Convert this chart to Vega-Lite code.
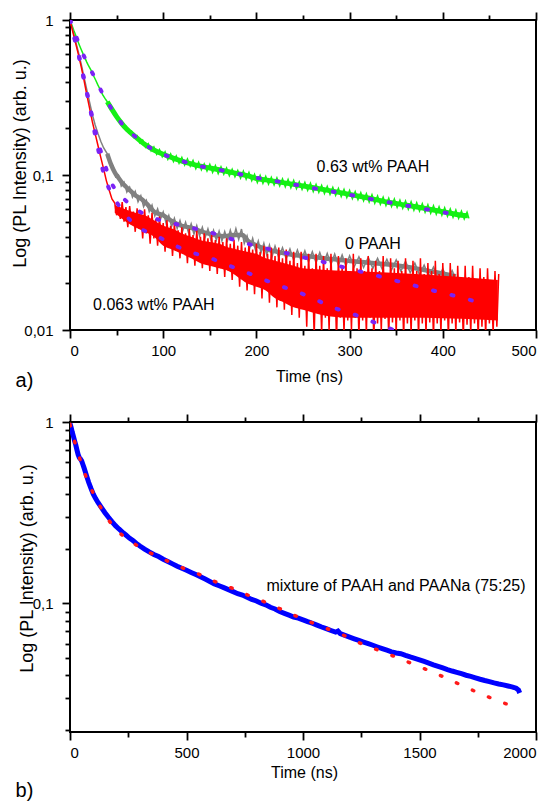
{
"$schema": "https://vega.github.io/schema/vega-lite/v6.json",
"background": "white",
"padding": {"left": 10, "top": 10, "right": 5, "bottom": 2},
"autosize": {"type": "pad"},
"config": {
  "font": "Liberation Sans",
  "view": {"stroke": "black", "strokeWidth": 2},
  "axis": {"domain": false, "grid": false, "labelFont": "Liberation Sans", "labelFontSize": 15, "labelColor": "black", "tickColor": "black", "titleFont": "Liberation Sans", "titleFontWeight": "normal", "titleColor": "black"}
},
"spacing": 92,
"bounds": "flush",
"datasets": {
"a": [
{"s":"g","t":0,"v":1},{"s":"g","t":2,"v":0.93},{"s":"g","t":4,"v":0.86},{"s":"g","t":6,"v":0.8},{"s":"g","t":8,"v":0.74},{"s":"g","t":10,"v":0.69},{"s":"g","t":12,"v":0.645},{"s":"g","t":14,"v":0.605},{"s":"g","t":16,"v":0.57},{"s":"g","t":18,"v":0.535},{"s":"g","t":20,"v":0.505},{"s":"g","t":22.5,"v":0.475},{"s":"g","t":25,"v":0.44},{"s":"g","t":27.5,"v":0.41},{"s":"g","t":30,"v":0.38},{"s":"g","t":32.5,"v":0.355},{"s":"g","t":35,"v":0.33},{"s":"g","t":37.5,"v":0.312},{"s":"g","t":40,"v":0.297},
{"s":"g","t":42,"v":0.289},{"s":"g","t":45,"v":0.259},{"s":"g","t":48,"v":0.253},{"s":"g","t":51,"v":0.227},{"s":"g","t":54,"v":0.225},{"s":"g","t":57,"v":0.204},{"s":"g","t":60,"v":0.206},{"s":"g","t":63,"v":0.187},{"s":"g","t":66,"v":0.192},{"s":"g","t":69,"v":0.173},{"s":"g","t":72,"v":0.179},{"s":"g","t":75,"v":0.161},{"s":"g","t":78,"v":0.168},{"s":"g","t":81,"v":0.151},{"s":"g","t":84,"v":0.159},{"s":"g","t":87,"v":0.143},{"s":"g","t":90,"v":0.152},{"s":"g","t":93,"v":0.136},{"s":"g","t":96,"v":0.146},{"s":"g","t":99,"v":0.131},{"s":"g","t":102,"v":0.141},{"s":"g","t":105,"v":0.126},{"s":"g","t":108,"v":0.137},{"s":"g","t":111,"v":0.122},{"s":"g","t":114,"v":0.133},{"s":"g","t":117,"v":0.119},{"s":"g","t":120,"v":0.13},{"s":"g","t":123,"v":0.116},{"s":"g","t":126,"v":0.127},{"s":"g","t":129,"v":0.114},{"s":"g","t":132,"v":0.124},{"s":"g","t":135,"v":0.11},{"s":"g","t":138,"v":0.121},{"s":"g","t":141,"v":0.108},{"s":"g","t":144,"v":0.118},{"s":"g","t":147,"v":0.106},{"s":"g","t":150,"v":0.117},{"s":"g","t":153,"v":0.104},{"s":"g","t":156,"v":0.115},{"s":"g","t":159,"v":0.102},{"s":"g","t":162,"v":0.113},{"s":"g","t":165,"v":0.101},{"s":"g","t":168,"v":0.111},{"s":"g","t":171,"v":0.099},{"s":"g","t":174,"v":0.109},{"s":"g","t":177,"v":0.0975},{"s":"g","t":180,"v":0.107},{"s":"g","t":183,"v":0.0955},{"s":"g","t":186,"v":0.106},{"s":"g","t":189,"v":0.094},{"s":"g","t":192,"v":0.104},{"s":"g","t":195,"v":0.092},{"s":"g","t":198,"v":0.101},{"s":"g","t":201,"v":0.0895},{"s":"g","t":204,"v":0.0995},{"s":"g","t":207,"v":0.0882},{"s":"g","t":210,"v":0.098},{"s":"g","t":213,"v":0.0872},{"s":"g","t":216,"v":0.0965},{"s":"g","t":219,"v":0.0862},{"s":"g","t":222,"v":0.0958},{"s":"g","t":225,"v":0.0852},{"s":"g","t":228,"v":0.0945},{"s":"g","t":231,"v":0.084},{"s":"g","t":234,"v":0.0935},{"s":"g","t":237,"v":0.0828},{"s":"g","t":240,"v":0.0922},{"s":"g","t":243,"v":0.0818},{"s":"g","t":246,"v":0.0905},{"s":"g","t":249,"v":0.0808},{"s":"g","t":252,"v":0.0895},{"s":"g","t":255,"v":0.0795},{"s":"g","t":258,"v":0.0885},{"s":"g","t":261,"v":0.0783},{"s":"g","t":264,"v":0.087},{"s":"g","t":267,"v":0.0772},{"s":"g","t":270,"v":0.0858},{"s":"g","t":273,"v":0.076},{"s":"g","t":276,"v":0.0845},{"s":"g","t":279,"v":0.075},{"s":"g","t":282,"v":0.0832},{"s":"g","t":285,"v":0.0738},{"s":"g","t":288,"v":0.082},{"s":"g","t":291,"v":0.0727},{"s":"g","t":294,"v":0.0808},{"s":"g","t":297,"v":0.0715},{"s":"g","t":300,"v":0.0795},{"s":"g","t":303,"v":0.0704},{"s":"g","t":306,"v":0.0782},{"s":"g","t":309,"v":0.0693},{"s":"g","t":312,"v":0.077},{"s":"g","t":315,"v":0.0682},{"s":"g","t":318,"v":0.0758},{"s":"g","t":321,"v":0.067},{"s":"g","t":324,"v":0.0745},{"s":"g","t":327,"v":0.0658},{"s":"g","t":330,"v":0.0733},{"s":"g","t":333,"v":0.0648},{"s":"g","t":336,"v":0.072},{"s":"g","t":339,"v":0.0636},{"s":"g","t":342,"v":0.0708},{"s":"g","t":345,"v":0.0627},{"s":"g","t":348,"v":0.07},{"s":"g","t":351,"v":0.0618},{"s":"g","t":354,"v":0.0688},{"s":"g","t":357,"v":0.061},{"s":"g","t":360,"v":0.068},{"s":"g","t":363,"v":0.0602},{"s":"g","t":366,"v":0.0672},{"s":"g","t":369,"v":0.0593},{"s":"g","t":372,"v":0.0662},{"s":"g","t":375,"v":0.0585},{"s":"g","t":378,"v":0.0652},{"s":"g","t":381,"v":0.0575},{"s":"g","t":384,"v":0.0642},{"s":"g","t":387,"v":0.0567},{"s":"g","t":390,"v":0.0633},{"s":"g","t":393,"v":0.0558},{"s":"g","t":396,"v":0.0623},{"s":"g","t":399,"v":0.055},{"s":"g","t":402,"v":0.0614},{"s":"g","t":405,"v":0.0542},{"s":"g","t":408,"v":0.0604},{"s":"g","t":411,"v":0.0533},{"s":"g","t":414,"v":0.0595},{"s":"g","t":417,"v":0.0525},{"s":"g","t":420,"v":0.0585},{"s":"g","t":423,"v":0.052},{"s":"g","t":426,"v":0.0575},{"s":"g","t":428,"v":0.0525},
{"s":"gc","t":40,"v":0.297},{"s":"gc","t":45,"v":0.265},{"s":"gc","t":50,"v":0.238},{"s":"gc","t":55,"v":0.217},{"s":"gc","t":60,"v":0.2},{"s":"gc","t":65,"v":0.188},{"s":"gc","t":70,"v":0.177},{"s":"gc","t":80,"v":0.158},{"s":"gc","t":90,"v":0.145},{"s":"gc","t":100,"v":0.136},{"s":"gc","t":110,"v":0.129},{"s":"gc","t":120,"v":0.123},{"s":"gc","t":130,"v":0.118},{"s":"gc","t":140,"v":0.114},{"s":"gc","t":150,"v":0.111},{"s":"gc","t":160,"v":0.108},{"s":"gc","t":170,"v":0.105},{"s":"gc","t":180,"v":0.102},{"s":"gc","t":190,"v":0.099},{"s":"gc","t":200,"v":0.095},{"s":"gc","t":210,"v":0.093},{"s":"gc","t":220,"v":0.091},{"s":"gc","t":240,"v":0.087},{"s":"gc","t":260,"v":0.083},{"s":"gc","t":280,"v":0.079},{"s":"gc","t":300,"v":0.075},{"s":"gc","t":320,"v":0.071},{"s":"gc","t":340,"v":0.067},{"s":"gc","t":360,"v":0.064},{"s":"gc","t":380,"v":0.061},{"s":"gc","t":400,"v":0.058},{"s":"gc","t":420,"v":0.055},{"s":"gc","t":427,"v":0.0545},
{"s":"k","t":0,"v":1},{"s":"k","t":3,"v":0.86},{"s":"k","t":6,"v":0.73},{"s":"k","t":9,"v":0.62},{"s":"k","t":12,"v":0.52},{"s":"k","t":15,"v":0.43},{"s":"k","t":18,"v":0.355},{"s":"k","t":21,"v":0.295},{"s":"k","t":24,"v":0.245},{"s":"k","t":27,"v":0.21},{"s":"k","t":30,"v":0.185},{"s":"k","t":33,"v":0.165},{"s":"k","t":36,"v":0.15},{"s":"k","t":40,"v":0.137},
{"s":"k","t":43,"v":0.116},{"s":"k","t":46,"v":0.115},{"s":"k","t":49,"v":0.097},{"s":"k","t":52,"v":0.1},{"s":"k","t":55,"v":0.085},{"s":"k","t":58,"v":0.09},{"s":"k","t":61,"v":0.0775},{"s":"k","t":64,"v":0.0835},{"s":"k","t":67,"v":0.072},{"s":"k","t":70,"v":0.0785},{"s":"k","t":73,"v":0.0672},{"s":"k","t":76,"v":0.0735},{"s":"k","t":79,"v":0.0625},{"s":"k","t":82,"v":0.0685},{"s":"k","t":85,"v":0.058},{"s":"k","t":88,"v":0.064},{"s":"k","t":91,"v":0.0545},{"s":"k","t":94,"v":0.0605},{"s":"k","t":97,"v":0.0518},{"s":"k","t":100,"v":0.0578},{"s":"k","t":103,"v":0.0492},{"s":"k","t":106,"v":0.0548},{"s":"k","t":109,"v":0.0465},{"s":"k","t":112,"v":0.0525},{"s":"k","t":115,"v":0.0452},{"s":"k","t":118,"v":0.0508},{"s":"k","t":121,"v":0.0438},{"s":"k","t":124,"v":0.0496},{"s":"k","t":127,"v":0.0428},{"s":"k","t":130,"v":0.0484},{"s":"k","t":133,"v":0.0416},{"s":"k","t":136,"v":0.0472},{"s":"k","t":139,"v":0.0405},{"s":"k","t":142,"v":0.046},{"s":"k","t":145,"v":0.0396},{"s":"k","t":148,"v":0.045},{"s":"k","t":151,"v":0.0387},{"s":"k","t":154,"v":0.044},{"s":"k","t":157,"v":0.038},{"s":"k","t":160,"v":0.0435},{"s":"k","t":163,"v":0.0376},{"s":"k","t":166,"v":0.0432},{"s":"k","t":169,"v":0.0378},{"s":"k","t":172,"v":0.044},{"s":"k","t":175,"v":0.0385},{"s":"k","t":178,"v":0.045},{"s":"k","t":181,"v":0.0385},{"s":"k","t":184,"v":0.0448},{"s":"k","t":187,"v":0.0362},{"s":"k","t":190,"v":0.0405},{"s":"k","t":193,"v":0.034},{"s":"k","t":196,"v":0.039},{"s":"k","t":199,"v":0.0328},{"s":"k","t":202,"v":0.0375},{"s":"k","t":205,"v":0.0316},{"s":"k","t":208,"v":0.0362},{"s":"k","t":211,"v":0.0306},{"s":"k","t":214,"v":0.0353},{"s":"k","t":217,"v":0.03},{"s":"k","t":220,"v":0.0348},{"s":"k","t":224,"v":0.0294},{"s":"k","t":228,"v":0.034},{"s":"k","t":232,"v":0.0288},{"s":"k","t":236,"v":0.0333},{"s":"k","t":240,"v":0.0282},{"s":"k","t":244,"v":0.0328},{"s":"k","t":248,"v":0.0279},{"s":"k","t":252,"v":0.0324},{"s":"k","t":256,"v":0.0275},{"s":"k","t":260,"v":0.032},{"s":"k","t":264,"v":0.0272},{"s":"k","t":268,"v":0.0316},{"s":"k","t":272,"v":0.0269},{"s":"k","t":276,"v":0.0312},{"s":"k","t":280,"v":0.0265},{"s":"k","t":284,"v":0.0309},{"s":"k","t":288,"v":0.0262},{"s":"k","t":292,"v":0.0305},{"s":"k","t":296,"v":0.0259},{"s":"k","t":300,"v":0.0301},{"s":"k","t":305,"v":0.0256},{"s":"k","t":310,"v":0.0297},{"s":"k","t":315,"v":0.0253},{"s":"k","t":320,"v":0.0294},{"s":"k","t":325,"v":0.025},{"s":"k","t":330,"v":0.029},{"s":"k","t":335,"v":0.0247},{"s":"k","t":340,"v":0.0286},{"s":"k","t":345,"v":0.0244},{"s":"k","t":350,"v":0.0283},{"s":"k","t":355,"v":0.024},{"s":"k","t":360,"v":0.0277},{"s":"k","t":365,"v":0.0234},{"s":"k","t":370,"v":0.027},{"s":"k","t":375,"v":0.0227},{"s":"k","t":380,"v":0.0262},{"s":"k","t":385,"v":0.0221},{"s":"k","t":390,"v":0.0255},{"s":"k","t":395,"v":0.0215},{"s":"k","t":400,"v":0.0248},{"s":"k","t":405,"v":0.021},{"s":"k","t":410,"v":0.0242},{"s":"k","t":415,"v":0.0205},
{"s":"kc","t":40,"v":0.137},{"s":"kc","t":44,"v":0.117},{"s":"kc","t":48,"v":0.104},{"s":"kc","t":52,"v":0.096},{"s":"kc","t":56,"v":0.089},{"s":"kc","t":60,"v":0.084},{"s":"kc","t":65,"v":0.079},{"s":"kc","t":70,"v":0.074},{"s":"kc","t":76,"v":0.0705},{"s":"kc","t":82,"v":0.0655},{"s":"kc","t":91,"v":0.0575},{"s":"kc","t":100,"v":0.055},{"s":"kc","t":108,"v":0.051},{"s":"kc","t":120,"v":0.047},{"s":"kc","t":130,"v":0.0457},{"s":"kc","t":140,"v":0.0434},{"s":"kc","t":152,"v":0.0413},{"s":"kc","t":165,"v":0.0403},{"s":"kc","t":175,"v":0.041},{"s":"kc","t":185,"v":0.041},{"s":"kc","t":191,"v":0.0375},{"s":"kc","t":200,"v":0.0352},{"s":"kc","t":210,"v":0.0332},{"s":"kc","t":220,"v":0.0322},{"s":"kc","t":240,"v":0.0305},{"s":"kc","t":260,"v":0.0297},{"s":"kc","t":280,"v":0.0287},{"s":"kc","t":300,"v":0.0279},{"s":"kc","t":320,"v":0.0272},{"s":"kc","t":350,"v":0.0262},{"s":"kc","t":380,"v":0.0244},{"s":"kc","t":414,"v":0.0222},
{"s":"r","t":0,"v":1},{"s":"r","t":3,"v":0.84},{"s":"r","t":6,"v":0.71},{"s":"r","t":9,"v":0.6},{"s":"r","t":12,"v":0.5},{"s":"r","t":15,"v":0.41},{"s":"r","t":18,"v":0.33},{"s":"r","t":21,"v":0.27},{"s":"r","t":24,"v":0.22},{"s":"r","t":27,"v":0.185},{"s":"r","t":30,"v":0.155},{"s":"r","t":33,"v":0.13},{"s":"r","t":36,"v":0.11},{"s":"r","t":39,"v":0.092},{"s":"r","t":42,"v":0.08},{"s":"r","t":45,"v":0.07},
{"s":"r","t":48,"v":0.066},{"s":"r","t":50,"v":0.055},{"s":"r","t":52,"v":0.064},{"s":"r","t":54,"v":0.052},{"s":"r","t":56,"v":0.067},{"s":"r","t":58,"v":0.05},{"s":"r","t":60,"v":0.062},{"s":"r","t":62,"v":0.046},{"s":"r","t":64,"v":0.063},{"s":"r","t":66,"v":0.048},{"s":"r","t":68,"v":0.058},{"s":"r","t":70,"v":0.043},{"s":"r","t":72,"v":0.061},{"s":"r","t":74,"v":0.045},{"s":"r","t":76,"v":0.057},{"s":"r","t":78,"v":0.039},{"s":"r","t":80,"v":0.06},{"s":"r","t":82,"v":0.042},{"s":"r","t":84,"v":0.055},{"s":"r","t":86,"v":0.036},{"s":"r","t":88,"v":0.057},{"s":"r","t":90,"v":0.039},{"s":"r","t":92,"v":0.052},{"s":"r","t":94,"v":0.035},{"s":"r","t":96,"v":0.054},{"s":"r","t":98,"v":0.037},{"s":"r","t":100,"v":0.049},{"s":"r","t":102,"v":0.032},{"s":"r","t":104,"v":0.051},{"s":"r","t":106,"v":0.035},{"s":"r","t":108,"v":0.047},{"s":"r","t":110,"v":0.03},{"s":"r","t":112,"v":0.049},{"s":"r","t":114,"v":0.033},{"s":"r","t":116,"v":0.044},{"s":"r","t":118,"v":0.029},{"s":"r","t":120,"v":0.046},{"s":"r","t":122,"v":0.031},{"s":"r","t":124,"v":0.042},{"s":"r","t":126,"v":0.027},{"s":"r","t":128,"v":0.045},{"s":"r","t":130,"v":0.03},{"s":"r","t":132,"v":0.041},{"s":"r","t":134,"v":0.026},{"s":"r","t":136,"v":0.044},{"s":"r","t":138,"v":0.029},{"s":"r","t":140,"v":0.04},{"s":"r","t":142,"v":0.025},{"s":"r","t":144,"v":0.042},{"s":"r","t":146,"v":0.028},{"s":"r","t":148,"v":0.039},{"s":"r","t":150,"v":0.024},{"s":"r","t":152,"v":0.041},{"s":"r","t":154,"v":0.026},{"s":"r","t":156,"v":0.038},{"s":"r","t":158,"v":0.023},{"s":"r","t":160,"v":0.04},{"s":"r","t":162,"v":0.025},{"s":"r","t":164,"v":0.037},{"s":"r","t":166,"v":0.022},{"s":"r","t":168,"v":0.039},{"s":"r","t":170,"v":0.024},{"s":"r","t":172,"v":0.036},{"s":"r","t":174,"v":0.021},{"s":"r","t":176,"v":0.038},{"s":"r","t":178,"v":0.023},{"s":"r","t":180,"v":0.035},{"s":"r","t":182,"v":0.019},{"s":"r","t":184,"v":0.037},{"s":"r","t":186,"v":0.022},{"s":"r","t":188,"v":0.034},{"s":"r","t":190,"v":0.018},{"s":"r","t":192,"v":0.037},{"s":"r","t":194,"v":0.021},{"s":"r","t":196,"v":0.033},{"s":"r","t":198,"v":0.017},{"s":"r","t":200,"v":0.036},{"s":"r","t":202,"v":0.02},{"s":"r","t":204,"v":0.032},{"s":"r","t":206,"v":0.016},{"s":"r","t":208,"v":0.035},{"s":"r","t":210,"v":0.019},{"s":"r","t":212,"v":0.031},{"s":"r","t":214,"v":0.015},{"s":"r","t":216,"v":0.034},{"s":"r","t":218,"v":0.018},{"s":"r","t":220,"v":0.03},{"s":"r","t":222,"v":0.014},{"s":"r","t":224,"v":0.034},{"s":"r","t":226,"v":0.017},{"s":"r","t":228,"v":0.029},{"s":"r","t":230,"v":0.0135},{"s":"r","t":232,"v":0.033},{"s":"r","t":234,"v":0.016},{"s":"r","t":236,"v":0.028},{"s":"r","t":238,"v":0.0125},{"s":"r","t":240,"v":0.032},{"s":"r","t":242,"v":0.015},{"s":"r","t":244,"v":0.027},{"s":"r","t":246,"v":0.012},{"s":"r","t":248,"v":0.032},{"s":"r","t":250,"v":0.014},{"s":"r","t":252,"v":0.026},{"s":"r","t":254,"v":0.0105},{"s":"r","t":256,"v":0.031},{"s":"r","t":258,"v":0.0135},{"s":"r","t":260,"v":0.025},{"s":"r","t":262,"v":0.009},{"s":"r","t":264,"v":0.031},{"s":"r","t":266,"v":0.013},{"s":"r","t":268,"v":0.026},{"s":"r","t":270,"v":0.0095},{"s":"r","t":272,"v":0.03},{"s":"r","t":274,"v":0.012},{"s":"r","t":276,"v":0.025},{"s":"r","t":278,"v":0.01},{"s":"r","t":280,"v":0.031},{"s":"r","t":282,"v":0.0125},{"s":"r","t":284,"v":0.024},{"s":"r","t":286,"v":0.0085},{"s":"r","t":288,"v":0.03},{"s":"r","t":290,"v":0.012},{"s":"r","t":292,"v":0.026},{"s":"r","t":294,"v":0.0095},{"s":"r","t":296,"v":0.029},{"s":"r","t":298,"v":0.0115},{"s":"r","t":300,"v":0.024},{"s":"r","t":302,"v":0.01},{"s":"r","t":304,"v":0.031},{"s":"r","t":306,"v":0.012},{"s":"r","t":308,"v":0.025},{"s":"r","t":310,"v":0.009},{"s":"r","t":312,"v":0.029},{"s":"r","t":314,"v":0.0115},{"s":"r","t":316,"v":0.024},{"s":"r","t":318,"v":0.0095},{"s":"r","t":320,"v":0.03},{"s":"r","t":322,"v":0.012},{"s":"r","t":324,"v":0.025},{"s":"r","t":326,"v":0.0085},{"s":"r","t":328,"v":0.028},{"s":"r","t":330,"v":0.011},{"s":"r","t":332,"v":0.024},{"s":"r","t":334,"v":0.0098},{"s":"r","t":336,"v":0.03},{"s":"r","t":338,"v":0.0118},{"s":"r","t":340,"v":0.023},{"s":"r","t":342,"v":0.009},{"s":"r","t":344,"v":0.029},{"s":"r","t":346,"v":0.0112},{"s":"r","t":348,"v":0.025},{"s":"r","t":350,"v":0.0095},{"s":"r","t":352,"v":0.028},{"s":"r","t":354,"v":0.0115},{"s":"r","t":356,"v":0.024},{"s":"r","t":358,"v":0.0088},{"s":"r","t":360,"v":0.029},{"s":"r","t":362,"v":0.011},{"s":"r","t":364,"v":0.023},{"s":"r","t":366,"v":0.0095},{"s":"r","t":368,"v":0.028},{"s":"r","t":370,"v":0.0115},{"s":"r","t":372,"v":0.024},{"s":"r","t":374,"v":0.009},{"s":"r","t":376,"v":0.029},{"s":"r","t":378,"v":0.011},{"s":"r","t":380,"v":0.023},{"s":"r","t":382,"v":0.0095},{"s":"r","t":384,"v":0.027},{"s":"r","t":386,"v":0.0112},{"s":"r","t":388,"v":0.024},{"s":"r","t":390,"v":0.0088},{"s":"r","t":392,"v":0.028},{"s":"r","t":394,"v":0.011},{"s":"r","t":396,"v":0.023},{"s":"r","t":398,"v":0.0095},{"s":"r","t":400,"v":0.027},{"s":"r","t":402,"v":0.0115},{"s":"r","t":404,"v":0.022},{"s":"r","t":406,"v":0.009},{"s":"r","t":408,"v":0.027},{"s":"r","t":410,"v":0.011},{"s":"r","t":412,"v":0.023},{"s":"r","t":414,"v":0.0095},{"s":"r","t":416,"v":0.026},{"s":"r","t":418,"v":0.0112},{"s":"r","t":420,"v":0.022},{"s":"r","t":422,"v":0.0088},{"s":"r","t":424,"v":0.026},{"s":"r","t":426,"v":0.0108},{"s":"r","t":428,"v":0.022},{"s":"r","t":430,"v":0.0095},{"s":"r","t":432,"v":0.026},{"s":"r","t":434,"v":0.011},{"s":"r","t":436,"v":0.021},{"s":"r","t":438,"v":0.009},{"s":"r","t":440,"v":0.025},{"s":"r","t":442,"v":0.0105},{"s":"r","t":444,"v":0.022},{"s":"r","t":446,"v":0.0092},{"s":"r","t":448,"v":0.025},{"s":"r","t":450,"v":0.011},{"s":"r","t":452,"v":0.021},{"s":"r","t":454,"v":0.0095},{"s":"r","t":456,"v":0.024},{"s":"r","t":458,"v":0.0105},{"s":"r","t":460,"v":0.023},
{"s":"gf","t":0,"v":1},{"s":"gf","t":3,"v":0.89},{"s":"gf","t":6,"v":0.8},{"s":"gf","t":9,"v":0.72},{"s":"gf","t":12,"v":0.645},{"s":"gf","t":15,"v":0.585},{"s":"gf","t":18,"v":0.535},{"s":"gf","t":21,"v":0.49},{"s":"gf","t":24,"v":0.455},{"s":"gf","t":27,"v":0.42},{"s":"gf","t":30,"v":0.385},{"s":"gf","t":35,"v":0.335},{"s":"gf","t":40,"v":0.297},{"s":"gf","t":45,"v":0.265},{"s":"gf","t":50,"v":0.238},{"s":"gf","t":55,"v":0.217},{"s":"gf","t":60,"v":0.2},{"s":"gf","t":70,"v":0.177},{"s":"gf","t":80,"v":0.158},{"s":"gf","t":90,"v":0.145},{"s":"gf","t":100,"v":0.136},{"s":"gf","t":120,"v":0.123},{"s":"gf","t":140,"v":0.114},{"s":"gf","t":160,"v":0.108},{"s":"gf","t":180,"v":0.102},{"s":"gf","t":200,"v":0.096},{"s":"gf","t":220,"v":0.0915},{"s":"gf","t":240,"v":0.087},{"s":"gf","t":260,"v":0.0825},{"s":"gf","t":280,"v":0.0785},{"s":"gf","t":300,"v":0.0745},{"s":"gf","t":320,"v":0.0705},{"s":"gf","t":340,"v":0.067},{"s":"gf","t":360,"v":0.0637},{"s":"gf","t":380,"v":0.0605},{"s":"gf","t":400,"v":0.0575},{"s":"gf","t":422,"v":0.0545},
{"s":"kf","t":0,"v":1},{"s":"kf","t":3,"v":0.85},{"s":"kf","t":6,"v":0.72},{"s":"kf","t":9,"v":0.61},{"s":"kf","t":12,"v":0.51},{"s":"kf","t":15,"v":0.42},{"s":"kf","t":18,"v":0.345},{"s":"kf","t":21,"v":0.285},{"s":"kf","t":24,"v":0.235},{"s":"kf","t":27,"v":0.195},{"s":"kf","t":30,"v":0.165},{"s":"kf","t":35,"v":0.13},{"s":"kf","t":40,"v":0.105},{"s":"kf","t":44,"v":0.09},{"s":"kf","t":50,"v":0.079},{"s":"kf","t":57,"v":0.071},{"s":"kf","t":65,"v":0.064},{"s":"kf","t":75,"v":0.058},{"s":"kf","t":87,"v":0.0535},{"s":"kf","t":109,"v":0.049},{"s":"kf","t":128,"v":0.046},{"s":"kf","t":148,"v":0.043},{"s":"kf","t":168,"v":0.0395},{"s":"kf","t":187,"v":0.0365},{"s":"kf","t":207,"v":0.034},{"s":"kf","t":226,"v":0.032},{"s":"kf","t":247,"v":0.0297},{"s":"kf","t":266,"v":0.028},{"s":"kf","t":287,"v":0.026},{"s":"kf","t":307,"v":0.0242},{"s":"kf","t":327,"v":0.0226},{"s":"kf","t":347,"v":0.021},{"s":"kf","t":366,"v":0.0196},{"s":"kf","t":386,"v":0.0182},{"s":"kf","t":406,"v":0.017},{"s":"kf","t":425,"v":0.0159},{"s":"kf","t":445,"v":0.0147},
{"s":"rf","t":0,"v":1},{"s":"rf","t":3,"v":0.84},{"s":"rf","t":6,"v":0.71},{"s":"rf","t":9,"v":0.6},{"s":"rf","t":12,"v":0.5},{"s":"rf","t":15,"v":0.41},{"s":"rf","t":18,"v":0.34},{"s":"rf","t":21,"v":0.28},{"s":"rf","t":24,"v":0.225},{"s":"rf","t":27,"v":0.18},{"s":"rf","t":30,"v":0.148},{"s":"rf","t":33,"v":0.122},{"s":"rf","t":36,"v":0.103},{"s":"rf","t":40,"v":0.087},{"s":"rf","t":44,"v":0.077},{"s":"rf","t":48,"v":0.07},{"s":"rf","t":57,"v":0.058},{"s":"rf","t":71,"v":0.047},{"s":"rf","t":91,"v":0.041},{"s":"rf","t":109,"v":0.036},{"s":"rf","t":128,"v":0.032},{"s":"rf","t":148,"v":0.0295},{"s":"rf","t":166,"v":0.0267},{"s":"rf","t":186,"v":0.024},{"s":"rf","t":205,"v":0.0215},{"s":"rf","t":223,"v":0.0195},{"s":"rf","t":243,"v":0.0177},{"s":"rf","t":263,"v":0.0158},{"s":"rf","t":280,"v":0.0141},{"s":"rf","t":300,"v":0.0129},{"s":"rf","t":320,"v":0.0116},{"s":"rf","t":338,"v":0.0105},{"s":"rf","t":360,"v":0.0094},{"s":"rf","t":380,"v":0.0085}
],
"rband": [
{"t":48,"lo":0.057,"hi":0.064},{"t":60,"lo":0.05,"hi":0.06},{"t":70,"lo":0.046,"hi":0.057},{"t":80,"lo":0.043,"hi":0.055},{"t":90,"lo":0.04,"hi":0.051},{"t":100,"lo":0.035,"hi":0.047},{"t":110,"lo":0.033,"hi":0.045},{"t":120,"lo":0.031,"hi":0.042},{"t":130,"lo":0.029,"hi":0.04},{"t":140,"lo":0.027,"hi":0.038},{"t":150,"lo":0.026,"hi":0.037},{"t":160,"lo":0.025,"hi":0.036},{"t":170,"lo":0.024,"hi":0.034},{"t":180,"lo":0.022,"hi":0.033},{"t":190,"lo":0.02,"hi":0.032},{"t":200,"lo":0.019,"hi":0.031},{"t":210,"lo":0.018,"hi":0.029},{"t":220,"lo":0.016,"hi":0.028},{"t":230,"lo":0.015,"hi":0.027},{"t":240,"lo":0.014,"hi":0.026},{"t":250,"lo":0.0135,"hi":0.025},{"t":270,"lo":0.0125,"hi":0.0245},{"t":300,"lo":0.012,"hi":0.024},{"t":340,"lo":0.012,"hi":0.0235},{"t":380,"lo":0.012,"hi":0.0228},{"t":420,"lo":0.0118,"hi":0.022},{"t":459,"lo":0.0115,"hi":0.021}
],
"alab": [
{"t":325,"v":0.1126,"label":"0.63 wt% PAAH"},
{"t":325,"v":0.0359,"label":"0 PAAH"},
{"t":90,"v":0.0145,"label":"0.063 wt% PAAH"}
],
"b": [
{"s":"b","t":0,"v":0.98},{"s":"b","t":5,"v":0.93},{"s":"b","t":10,"v":0.875},{"s":"b","t":15,"v":0.83},{"s":"b","t":20,"v":0.785},{"s":"b","t":25,"v":0.745},{"s":"b","t":30,"v":0.7},{"s":"b","t":35,"v":0.66},{"s":"b","t":40,"v":0.635},{"s":"b","t":45,"v":0.625},{"s":"b","t":50,"v":0.61},{"s":"b","t":55,"v":0.585},{"s":"b","t":60,"v":0.56},{"s":"b","t":70,"v":0.51},{"s":"b","t":80,"v":0.465},{"s":"b","t":90,"v":0.43},{"s":"b","t":100,"v":0.4},{"s":"b","t":110,"v":0.378},{"s":"b","t":120,"v":0.36},{"s":"b","t":135,"v":0.337},{"s":"b","t":150,"v":0.316},{"s":"b","t":165,"v":0.298},{"s":"b","t":180,"v":0.282},{"s":"b","t":195,"v":0.268},{"s":"b","t":210,"v":0.257},{"s":"b","t":225,"v":0.247},{"s":"b","t":240,"v":0.238},{"s":"b","t":255,"v":0.229},{"s":"b","t":270,"v":0.222},{"s":"b","t":285,"v":0.214},{"s":"b","t":300,"v":0.207},{"s":"b","t":320,"v":0.199},{"s":"b","t":340,"v":0.192},{"s":"b","t":360,"v":0.186},{"s":"b","t":380,"v":0.181},{"s":"b","t":400,"v":0.175},{"s":"b","t":420,"v":0.17},{"s":"b","t":440,"v":0.165},{"s":"b","t":460,"v":0.16},{"s":"b","t":480,"v":0.156},{"s":"b","t":500,"v":0.152},{"s":"b","t":520,"v":0.148},{"s":"b","t":540,"v":0.144},{"s":"b","t":560,"v":0.14},{"s":"b","t":580,"v":0.136},{"s":"b","t":600,"v":0.132},{"s":"b","t":620,"v":0.128},{"s":"b","t":640,"v":0.125},{"s":"b","t":660,"v":0.122},{"s":"b","t":680,"v":0.119},{"s":"b","t":700,"v":0.116},{"s":"b","t":720,"v":0.113},{"s":"b","t":740,"v":0.111},{"s":"b","t":760,"v":0.108},{"s":"b","t":780,"v":0.105},{"s":"b","t":800,"v":0.103},{"s":"b","t":820,"v":0.1},{"s":"b","t":840,"v":0.098},{"s":"b","t":860,"v":0.095},{"s":"b","t":880,"v":0.093},{"s":"b","t":900,"v":0.09},{"s":"b","t":920,"v":0.088},{"s":"b","t":940,"v":0.086},{"s":"b","t":960,"v":0.084},{"s":"b","t":980,"v":0.0828},{"s":"b","t":1000,"v":0.081},{"s":"b","t":1020,"v":0.0792},{"s":"b","t":1040,"v":0.0776},{"s":"b","t":1060,"v":0.0758},{"s":"b","t":1080,"v":0.074},{"s":"b","t":1100,"v":0.0724},{"s":"b","t":1120,"v":0.0708},{"s":"b","t":1140,"v":0.0693},{"s":"b","t":1150,"v":0.0703},{"s":"b","t":1160,"v":0.068},{"s":"b","t":1180,"v":0.0665},{"s":"b","t":1200,"v":0.0651},{"s":"b","t":1220,"v":0.0637},{"s":"b","t":1240,"v":0.0624},{"s":"b","t":1260,"v":0.0611},{"s":"b","t":1280,"v":0.0599},{"s":"b","t":1300,"v":0.0587},{"s":"b","t":1320,"v":0.0574},{"s":"b","t":1340,"v":0.0562},{"s":"b","t":1360,"v":0.0551},{"s":"b","t":1380,"v":0.054},{"s":"b","t":1400,"v":0.0532},{"s":"b","t":1420,"v":0.0527},{"s":"b","t":1440,"v":0.0516},{"s":"b","t":1460,"v":0.0506},{"s":"b","t":1480,"v":0.0497},{"s":"b","t":1500,"v":0.0488},{"s":"b","t":1520,"v":0.0478},{"s":"b","t":1540,"v":0.0468},{"s":"b","t":1560,"v":0.0458},{"s":"b","t":1580,"v":0.0449},{"s":"b","t":1600,"v":0.044},{"s":"b","t":1620,"v":0.0431},{"s":"b","t":1640,"v":0.0423},{"s":"b","t":1660,"v":0.0416},{"s":"b","t":1680,"v":0.0409},{"s":"b","t":1700,"v":0.0401},{"s":"b","t":1720,"v":0.0395},{"s":"b","t":1740,"v":0.0388},{"s":"b","t":1760,"v":0.0381},{"s":"b","t":1780,"v":0.0375},{"s":"b","t":1800,"v":0.037},{"s":"b","t":1820,"v":0.0364},{"s":"b","t":1840,"v":0.0359},{"s":"b","t":1860,"v":0.0355},{"s":"b","t":1880,"v":0.035},{"s":"b","t":1900,"v":0.0345},{"s":"b","t":1915,"v":0.034},{"s":"b","t":1925,"v":0.0332},{"s":"b","t":1930,"v":0.032},
{"s":"f","t":0,"v":0.97},{"s":"f","t":21,"v":0.77},{"s":"f","t":47,"v":0.6},{"s":"f","t":74,"v":0.48},{"s":"f","t":106,"v":0.39},{"s":"f","t":144,"v":0.318},{"s":"f","t":190,"v":0.262},{"s":"f","t":256,"v":0.222},{"s":"f","t":330,"v":0.194},{"s":"f","t":402,"v":0.175},{"s":"f","t":477,"v":0.158},{"s":"f","t":552,"v":0.145},{"s":"f","t":627,"v":0.131},{"s":"f","t":703,"v":0.12},{"s":"f","t":777,"v":0.109},{"s":"f","t":858,"v":0.099},{"s":"f","t":935,"v":0.089},{"s":"f","t":1009,"v":0.081},{"s":"f","t":1077,"v":0.0746},{"s":"f","t":1159,"v":0.068},{"s":"f","t":1227,"v":0.0617},{"s":"f","t":1309,"v":0.056},{"s":"f","t":1382,"v":0.0515},{"s":"f","t":1459,"v":0.047},{"s":"f","t":1537,"v":0.0427},{"s":"f","t":1614,"v":0.0387},{"s":"f","t":1687,"v":0.035},{"s":"f","t":1760,"v":0.0318},{"s":"f","t":1837,"v":0.029},{"s":"f","t":1910,"v":0.0267},{"s":"f","t":1925,"v":0.0262}
],
"blab": [
{"t":1399,"v":0.124,"label":"mixture of PAAH and PAANa (75:25)"}
]
},
"vconcat": [
{
"width": 466, "height": 310,
"resolve": {"axis": {"x": "independent", "y": "independent"}},
"layer": [
{
"data": {"name": "a"},
"transform": [{"filter": "datum.s == 'g'"}],
"mark": {"type": "line", "color": "#14f014", "strokeWidth": 1.5, "clip": true},
"encoding": {
"x": {"field": "t", "type": "quantitative", "scale": {"domain": [0, 500], "nice": false, "zero": false},
"axis": {"orient": "bottom", "values": [0, 50, 100, 150, 200, 250, 300, 350, 400, 450, 500],
"tickSize": {"condition": {"test": "datum.value % 100 == 0", "value": 8}, "value": 5},
"tickWidth": 1.8, "labelPadding": 5,
"labelExpr": "datum.value % 100 == 0 ? datum.label : ''",
"title": "Time (ns)", "titleFontSize": 16, "titleX": 239, "titleY": 46, "titleAlign": "center", "titleBaseline": "middle", "titleAngle": 0}},
"y": {"field": "v", "type": "quantitative", "scale": {"type": "log", "domain": [0.01, 1], "nice": false},
"axis": {"orient": "left", "values": [1, 0.9, 0.8, 0.7, 0.6, 0.5, 0.4, 0.3, 0.2, 0.1, 0.09, 0.08, 0.07, 0.06, 0.05, 0.04, 0.03, 0.02, 0.01],
"tickSize": {"condition": {"test": "datum.value == 1 || datum.value == 0.1 || datum.value == 0.01", "value": 8}, "value": 5},
"tickWidth": 1.8, "labelPadding": 9,
"labelExpr": "(datum.value == 1 || datum.value == 0.1 || datum.value == 0.01) ? replace(format(datum.value, '~g'), '.', ',') : ''",
"title": "Log (PL Intensity) (arb. u.)", "titleFontSize": 18, "titleX": -50, "titleY": 143, "titleAngle": 270, "titleAlign": "center", "titleBaseline": "middle"}}
}
},
{
"data": {"name": "a"},
"transform": [{"filter": "datum.s == 'gc'"}],
"mark": {"type": "line", "color": "#14f014", "strokeWidth": 5, "interpolate": "monotone", "clip": true},
"encoding": {
"x": {"field": "t", "type": "quantitative", "scale": {"domain": [0, 500], "nice": false, "zero": false}, "axis": null},
"y": {"field": "v", "type": "quantitative", "scale": {"type": "log", "domain": [0.01, 1], "nice": false}, "axis": null}
}
},
{
"data": {"name": "a"},
"transform": [{"filter": "datum.s == 'k'"}],
"mark": {"type": "line", "color": "#808080", "strokeWidth": 1.5, "clip": true},
"encoding": {
"x": {"field": "t", "type": "quantitative", "scale": {"domain": [0, 500], "nice": false, "zero": false},
"axis": {"orient": "top", "values": [0, 50, 100, 150, 200, 250, 300, 350, 400, 450, 500],
"tickSize": {"condition": {"test": "datum.value % 100 == 0", "value": 8}, "value": 5},
"tickWidth": 1.8, "labels": false,
"title": "a)", "titleFontSize": 20, "titleX": -46, "titleY": 360, "titleAlign": "center", "titleBaseline": "middle", "titleAngle": 0}},
"y": {"field": "v", "type": "quantitative", "scale": {"type": "log", "domain": [0.01, 1], "nice": false}, "axis": null}
}
},
{
"data": {"name": "a"},
"transform": [{"filter": "datum.s == 'kc'"}],
"mark": {"type": "line", "color": "#808080", "strokeWidth": 4.5, "interpolate": "monotone", "clip": true},
"encoding": {
"x": {"field": "t", "type": "quantitative", "scale": {"domain": [0, 500], "nice": false, "zero": false}, "axis": null},
"y": {"field": "v", "type": "quantitative", "scale": {"type": "log", "domain": [0.01, 1], "nice": false}, "axis": null}
}
},
{
"data": {"name": "rband"},
"mark": {"type": "area", "color": "#ff0000", "opacity": 1, "interpolate": "monotone", "clip": true},
"encoding": {
"x": {"field": "t", "type": "quantitative", "scale": {"domain": [0, 500], "nice": false, "zero": false}, "axis": null},
"y": {"field": "lo", "type": "quantitative", "scale": {"type": "log", "domain": [0.01, 1], "nice": false}, "axis": null},
"y2": {"field": "hi"}
}
},
{
"data": {"name": "a"},
"transform": [{"filter": "datum.s == 'r'"}],
"mark": {"type": "line", "color": "#ff0000", "strokeWidth": 1.5, "clip": true},
"encoding": {
"x": {"field": "t", "type": "quantitative", "scale": {"domain": [0, 500], "nice": false, "zero": false}, "axis": null},
"y": {"field": "v", "type": "quantitative", "scale": {"type": "log", "domain": [0.01, 1], "nice": false}, "axis": null}
}
},
{
"data": {"name": "a"},
"transform": [{"filter": "datum.s == 'gf' || datum.s == 'kf' || datum.s == 'rf'"}],
"mark": {"type": "line", "color": "#7b22f5", "strokeWidth": 4, "strokeDash": [2, 17], "strokeCap": "round", "interpolate": "monotone", "clip": true},
"encoding": {
"x": {"field": "t", "type": "quantitative", "scale": {"domain": [0, 500], "nice": false, "zero": false}, "axis": null},
"y": {"field": "v", "type": "quantitative", "scale": {"type": "log", "domain": [0.01, 1], "nice": false}, "axis": null},
"detail": {"field": "s"}
}
},
{
"data": {"name": "alab"},
"mark": {"type": "text", "fontSize": 16, "font": "Liberation Sans", "color": "black", "align": "center", "baseline": "middle"},
"encoding": {
"x": {"field": "t", "type": "quantitative", "scale": {"domain": [0, 500], "nice": false, "zero": false}, "axis": null},
"y": {"field": "v", "type": "quantitative", "scale": {"type": "log", "domain": [0.01, 1], "nice": false}, "axis": null},
"text": {"field": "label"}
}
}
]
},
{
"width": 466, "height": 310,
"resolve": {"axis": {"x": "independent", "y": "independent"}},
"layer": [
{
"data": {"name": "b"},
"transform": [{"filter": "datum.s == 'b'"}],
"mark": {"type": "line", "color": "#0000ff", "strokeWidth": 5, "clip": true},
"encoding": {
"x": {"field": "t", "type": "quantitative", "scale": {"domain": [0, 2000], "nice": false, "zero": false},
"axis": {"orient": "bottom", "values": [0, 250, 500, 750, 1000, 1250, 1500, 1750, 2000],
"tickSize": {"condition": {"test": "datum.value % 500 == 0", "value": 8}, "value": 5},
"tickWidth": 1.8, "labelPadding": 5,
"labelExpr": "datum.value % 500 == 0 ? format(datum.value, 'd') : ''",
"title": "Time (ns)", "titleFontSize": 16, "titleX": 234, "titleY": 40, "titleAlign": "center", "titleBaseline": "middle", "titleAngle": 0}},
"y": {"field": "v", "type": "quantitative", "scale": {"type": "log", "domain": [0.0195, 1], "nice": false},
"axis": {"orient": "left", "values": [1, 0.9, 0.8, 0.7, 0.6, 0.5, 0.4, 0.3, 0.2, 0.1, 0.09, 0.08, 0.07, 0.06, 0.05, 0.04, 0.03, 0.02],
"tickSize": {"condition": {"test": "datum.value == 1 || datum.value == 0.1", "value": 8}, "value": 5},
"tickWidth": 1.8, "labelPadding": 9,
"labelExpr": "(datum.value == 1 || datum.value == 0.1) ? replace(format(datum.value, '~g'), '.', ',') : ''",
"title": "Log (PL Intensity) (arb. u.)", "titleFontSize": 18, "titleX": -43, "titleY": 146, "titleAngle": 270, "titleAlign": "center", "titleBaseline": "middle"}}
}
},
{
"data": {"name": "b"},
"transform": [{"filter": "datum.s == 'f'"}],
"mark": {"type": "line", "color": "#ff1a1a", "strokeWidth": 3.5, "strokeDash": [1.5, 16], "strokeCap": "round", "interpolate": "monotone", "clip": true},
"encoding": {
"x": {"field": "t", "type": "quantitative", "scale": {"domain": [0, 2000], "nice": false, "zero": false},
"axis": {"orient": "top", "values": [0, 250, 500, 750, 1000, 1250, 1500, 1750, 2000],
"tickSize": {"condition": {"test": "datum.value % 500 == 0", "value": 8}, "value": 5},
"tickWidth": 1.8, "labels": false,
"title": "b)", "titleFontSize": 20, "titleX": -46, "titleY": 368, "titleAlign": "center", "titleBaseline": "middle", "titleAngle": 0}},
"y": {"field": "v", "type": "quantitative", "scale": {"type": "log", "domain": [0.0195, 1], "nice": false}, "axis": null}
}
},
{
"data": {"name": "blab"},
"mark": {"type": "text", "fontSize": 16, "font": "Liberation Sans", "color": "black", "align": "center", "baseline": "middle"},
"encoding": {
"x": {"field": "t", "type": "quantitative", "scale": {"domain": [0, 2000], "nice": false, "zero": false}, "axis": null},
"y": {"field": "v", "type": "quantitative", "scale": {"type": "log", "domain": [0.0195, 1], "nice": false}, "axis": null},
"text": {"field": "label"}
}
}
]
}
]
}
